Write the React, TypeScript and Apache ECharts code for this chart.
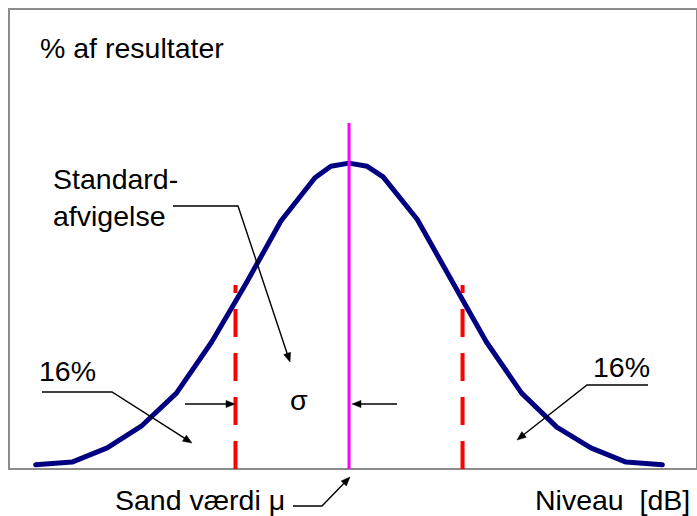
import React, { useEffect, useRef } from "react";
import * as echarts from "echarts";

// Level in units of sigma, measured from the true value mu
const curveX = [-2.76, -2.44, -2.13, -1.83, -1.52, -1.21, -0.91, -0.6, -0.3, -0.16, 0, 0.16, 0.3, 0.6, 0.91, 1.21, 1.52, 1.83, 2.13, 2.44, 2.76];
// Share of results (relative height, axis 0..100)
const curveY = [0.9, 1.5, 4.6, 9.3, 16.5, 27.6, 40.2, 53.9, 63.3, 65.8, 66.5, 65.8, 63.5, 54.3, 40.7, 27.6, 16.5, 9.1, 4.6, 1.5, 0.9];

const MU = 0;
const SIGMA_POSITIONS = [-1, 1];
const MU_LINE_TOP = 75.2;
const SIGMA_LINE_TOP = 40;
const X_RANGE = [-2.995, 3.065];
const Y_RANGE = [0, 100];

const texts = {
  yTitle: "% af resultater",
  std1: "Standard-",
  std2: "afvigelse",
  pctLeft: "16%",
  pctRight: "16%",
  sigma: "σ",
  mu: "Sand værdi μ",
  xTitle: "Niveau  [dB]",
};

const FONT = '28.5px "Liberation Sans", Arial, sans-serif';

function text(t: string, x: number, y: number) {
  return {
    type: "text",
    x,
    y,
    style: { text: t, font: FONT, fill: "#000", align: "left", verticalAlign: "middle" },
    z: 10,
  };
}

function leader(points: number[][]) {
  const els: any[] = [];
  const n = points.length;
  const [tx, ty] = points[n - 1];
  const [px, py] = points[n - 2];
  const dx = tx - px;
  const dy = ty - py;
  const len = Math.sqrt(dx * dx + dy * dy);
  const ux = dx / len;
  const uy = dy / len;
  const headLen = 9;
  const headHalf = 3.6;
  const bx = tx - ux * headLen;
  const by = ty - uy * headLen;
  const pts = points.slice(0, n - 1).concat([[bx + ux * 1, by + uy * 1]]);
  els.push({
    type: "polyline",
    shape: { points: pts },
    style: { stroke: "#000", lineWidth: 1.4, fill: null },
    z: 10,
  });
  els.push({
    type: "polygon",
    shape: {
      points: [
        [tx, ty],
        [bx - uy * headHalf, by + ux * headHalf],
        [bx + uy * headHalf, by - ux * headHalf],
      ],
    },
    style: { fill: "#000", stroke: "#000", lineWidth: 0.5 },
    z: 10,
  });
  return els;
}

export default function App() {
  const ref = useRef<HTMLDivElement>(null);
  useEffect(() => {
    const chart = echarts.init(ref.current!, null, { renderer: "svg" });
    const curveData = curveX.map((x, i) => [x, curveY[i]]);
    const option: any = {
      animation: false,
      backgroundColor: "#ffffff",
      grid: {
        left: 9,
        top: 9,
        width: 691,
        height: 460,
        show: true,
        borderColor: "#8c8c8c",
        borderWidth: 2,
        backgroundColor: "transparent",
      },
      xAxis: { type: "value", min: X_RANGE[0], max: X_RANGE[1], show: false },
      yAxis: { type: "value", min: Y_RANGE[0], max: Y_RANGE[1], show: false },
      series: [
        {
          type: "line",
          data: curveData,
          symbol: "none",
          smooth: false,
          lineStyle: { color: "#000080", width: 5, cap: "round", join: "round" },
          z: 2,
        },
        {
          type: "line",
          data: [
            [MU, 0],
            [MU, MU_LINE_TOP],
          ],
          symbol: "none",
          lineStyle: { color: "#ff00ff", width: 3 },
          z: 3,
        },
        ...SIGMA_POSITIONS.map((s) => ({
          type: "line",
          data: [
            [MU + s, 0],
            [MU + s, SIGMA_LINE_TOP],
          ],
          symbol: "none",
          lineStyle: { color: "#ff0000", width: 4, type: [28, 16] },
          z: 3,
        })),
      ],
      graphic: [
        text(texts.yTitle, 40, 48),
        text(texts.std1, 53, 179),
        text(texts.std2, 53, 216),
        text(texts.pctLeft, 39, 371),
        text(texts.pctRight, 593, 367),
        text(texts.sigma, 290, 400),
        text(texts.mu, 115, 500),
        text(texts.xTitle, 535, 500),
        ...leader([
          [173, 206],
          [238, 206],
          [290, 362],
        ]),
        ...leader([
          [42, 392],
          [112, 392],
          [192, 443],
        ]),
        ...leader([
          [648, 385],
          [587, 385],
          [517, 440],
        ]),
        ...leader([
          [185, 404],
          [235, 404],
        ]),
        ...leader([
          [397, 404],
          [352, 404],
        ]),
        ...leader([
          [293, 506],
          [322, 506],
          [350, 477],
        ]),
      ],
    };
    chart.setOption(option);
    return () => chart.dispose();
  }, []);
  return (
    <div
      ref={ref}
      style={{ position: "fixed", left: 0, top: 0, width: 697, height: 516, background: "#fff" }}
    />
  );
}
